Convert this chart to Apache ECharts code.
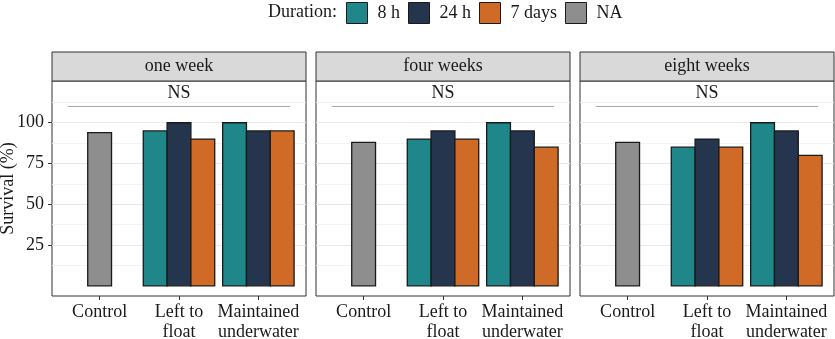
<!DOCTYPE html>
<html>
<head>
<meta charset="utf-8">
<script src="https://cdn.jsdelivr.net/npm/echarts@6/dist/echarts.min.js"></script>
<style>
  html, body { margin: 0; padding: 0; background: #ffffff; }
  #chart { width: 835px; height: 339px; }
</style>
</head>
<body>
<div id="chart"></div>
<script>
// Survival (%) by treatment, one facet per sampling time
const panels = ['one week', 'four weeks', 'eight weeks'];
const treatments = ['Control', 'Left to\nfloat', 'Maintained\nunderwater'];
const durations = ['8 h', '24 h', '7 days'];
const controlName = 'NA';

// Control survival per facet
const controlSurvival = [94, 88, 88];
// Per facet: [Left to float, Maintained underwater]
const survival8h  = [[95, 100], [90, 100], [85, 100]];
const survival24h = [[100, 95], [95, 95], [90, 95]];
const survival7d  = [[90, 95], [90, 85], [85, 80]];
const durationSurvival = [survival8h, survival24h, survival7d];

// Significance annotation per facet
const significance = ['NS', 'NS', 'NS'];
const bracketFrom = -0.4, bracketTo = 2.4, bracketLevel = 110, labelLevel = 118;

const yLabels = [25, 50, 75, 100];
const yMinor = [12.5, 37.5, 62.5, 87.5, 112.5];

// ---- styling ----
const FONT = 'Liberation Serif';
const INK = '#1a1a1a';
const durationColors = ['#1f878a', '#25354e', '#cf6a27'];
const controlColor = '#8e8e8e';
const BAR_WIDTH = 0.3;          // in category units
const PANEL_LEFT = [52, 316, 580];
const PANEL_W = 254;
const PANEL_TOP = 81;
const PANEL_H = 215;
const STRIP_TOP = 52;

function dodgedBar(slot, count) {
  return function (params, api) {
    const cat = api.value(0);
    const val = api.value(1);
    const unit = api.size([1, 0])[0];
    const w = unit * BAR_WIDTH;
    const cx = cat + (slot - (count - 1) / 2) * BAR_WIDTH;
    const top = api.coord([cx, val]);
    const base = api.coord([cx, 0]);
    return {
      type: 'rect',
      shape: { x: top[0] - w / 2, y: top[1], width: w, height: base[1] - top[1] },
      style: api.style({ stroke: INK, lineWidth: 1.3 })
    };
  };
}

const grids = [], xAxes = [], yAxes = [], series = [], graphics = [];

panels.forEach(function (name, p) {
  grids.push({
    left: PANEL_LEFT[p], top: PANEL_TOP, width: PANEL_W, height: PANEL_H,
    show: true, borderColor: '#333333', borderWidth: 1, backgroundColor: 'transparent',
    containLabel: false, outerBoundsMode: 'none'
  });

  xAxes.push({
    type: 'value', gridIndex: p, min: -0.6, max: 2.6, position: 'bottom',
    axisLine: { show: false, onZero: false },
    splitLine: { show: false },
    axisTick: { show: true, customValues: [0, 1, 2], length: 4, lineStyle: { color: '#333333', width: 1 } },
    axisLabel: {
      customValues: [0, 1, 2], margin: 7,
      formatter: function (v) { return treatments[Math.round(v)]; },
      fontFamily: FONT, fontSize: 18, color: INK, lineHeight: 19.5
    }
  });

  // major grid, ticks and labels
  yAxes.push({
    type: 'value', gridIndex: p, min: -6.25, max: 125.6, position: 'left',
    name: p === 0 ? 'Survival (%)' : '',
    nameLocation: 'middle', nameGap: 35, nameRotate: 90, nameMoveOverlap: false,
    nameTextStyle: { fontFamily: FONT, fontSize: 18, color: INK },
    axisLine: { show: false, onZero: false },
    axisTick: { show: p === 0, customValues: yLabels, length: 4, lineStyle: { color: '#333333', width: 1 } },
    axisLabel: {
      show: p === 0, customValues: yLabels, margin: 8,
      fontFamily: FONT, fontSize: 18, color: INK
    },
    splitLine: { show: true, lineStyle: { color: '#e8e8e8', width: 1 } }
  });
  // minor grid lines
  yAxes.push({
    type: 'value', gridIndex: p, min: -6.25, max: 125.6, position: 'left',
    axisLine: { show: false, onZero: false },
    axisTick: { show: false, customValues: yMinor },
    axisLabel: { show: false, customValues: yMinor },
    splitLine: { show: true, lineStyle: { color: '#f0f0f0', width: 0.8 } }
  });
  const yIdx = yAxes.length - 2;

  // control bar
  series.push({
    type: 'custom', name: controlName, xAxisIndex: p, yAxisIndex: yIdx,
    itemStyle: { color: controlColor },
    encode: { x: 0, y: 1 },
    data: [[0, controlSurvival[p]]],
    renderItem: dodgedBar(0, 1)
  });
  // duration bars
  durations.forEach(function (d, k) {
    series.push({
      type: 'custom', name: d, xAxisIndex: p, yAxisIndex: yIdx,
      itemStyle: { color: durationColors[k] },
      encode: { x: 0, y: 1 },
      data: [[1, durationSurvival[k][p][0]], [2, durationSurvival[k][p][1]]],
      renderItem: dodgedBar(k, durations.length)
    });
  });
  // significance bracket
  series.push({
    type: 'custom', xAxisIndex: p, yAxisIndex: yIdx, silent: true,
    encode: { x: [0, 1], y: [2, 3] },
    data: [[bracketFrom, bracketTo, bracketLevel, labelLevel]],
    renderItem: function (params, api) {
      const a = api.coord([api.value(0), api.value(2)]);
      const b = api.coord([api.value(1), api.value(2)]);
      const t = api.coord([(api.value(0) + api.value(1)) / 2, api.value(3)]);
      return {
        type: 'group',
        children: [
          { type: 'line', shape: { x1: a[0], y1: a[1], x2: b[0], y2: b[1] },
            style: { stroke: '#a6a6a6', lineWidth: 1 } },
          { type: 'text', x: t[0], y: t[1],
            style: { text: significance[p], fontFamily: FONT, fontSize: 18, fill: INK,
                     align: 'center', verticalAlign: 'middle' } }
        ]
      };
    }
  });

  // facet strip
  graphics.push({
    type: 'rect',
    shape: { x: PANEL_LEFT[p], y: STRIP_TOP, width: PANEL_W, height: PANEL_TOP - STRIP_TOP },
    style: { fill: '#d9d9d9', stroke: '#333333', lineWidth: 1 }
  });
  graphics.push({
    type: 'text',
    x: PANEL_LEFT[p] + PANEL_W / 2, y: (STRIP_TOP + PANEL_TOP) / 2,
    style: { text: name, fontFamily: FONT, fontSize: 18, fill: INK, align: 'center', verticalAlign: 'middle' }
  });
});

graphics.push({
  type: 'text', x: 268, y: 12.5,
  style: { text: 'Duration:', fontFamily: FONT, fontSize: 18, fill: INK, align: 'left', verticalAlign: 'middle' }
});

const chart = echarts.init(document.getElementById('chart'), null, { renderer: 'canvas' });
chart.setOption({
  animation: false,
  backgroundColor: '#ffffff',
  grid: grids,
  xAxis: xAxes,
  yAxis: yAxes,
  legend: {
    data: durations.concat([controlName]),
    left: 346, top: 2, padding: 0,
    itemWidth: 21, itemHeight: 21, itemGap: 8,
    icon: 'rect', selectedMode: false,
    itemStyle: { borderColor: INK, borderWidth: 1 },
    textStyle: { fontFamily: FONT, fontSize: 18, color: INK, padding: [0, 0, 0, 5] }
  },
  graphic: graphics,
  series: series
});
</script>
</body>
</html>
